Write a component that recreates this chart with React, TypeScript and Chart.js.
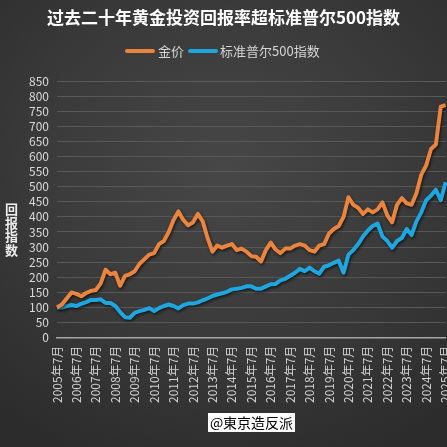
import { useEffect, useRef } from "react";
import { Chart, registerables } from "chart.js";

Chart.register(...registerables);

const TITLE = "过去二十年黄金投资回报率超标准普尔500指数";
const SERIES_NAMES = ["金价", "标准普尔500指数"];
const Y_TITLE = "回报指数";
const WATERMARK = "@東京造反派";

// quarterly categories, 2005年7月 .. 2025年7月
const QUARTER_MONTHS = [1, 4, 7, 10];
const categories: string[] = [];
for (let y = 2005; y <= 2025; y++) {
  for (const m of QUARTER_MONTHS) {
    if ((y === 2005 && m < 7) || (y === 2025 && m > 7)) continue;
    categories.push(`${y}年${m}月`);
  }
}

const goldValues = [
  100, 110, 130, 150, 145, 137, 148, 155, 158, 180,
  225, 210, 215, 172, 205, 210, 220, 245, 260, 275,
  280, 310, 320, 350, 390, 418, 390, 372, 382, 410,
  385, 330, 285, 305, 298, 305, 310, 290, 295, 285,
  270, 268, 252, 290, 315, 292, 280, 295, 295, 305,
  310, 305, 290, 285, 305, 310, 345, 360, 370, 400,
  465, 440, 430, 410, 425, 415, 425, 448, 405, 382,
  440, 462, 445, 440, 478, 540, 570, 625, 640, 765,
  770,
];

const spxValues = [
  100, 100, 105, 108, 105, 112, 118, 125, 125, 127,
  115, 115, 105, 85, 68, 66, 82, 88, 92, 98,
  88, 98, 105, 110, 105, 97, 108, 113, 113, 117,
  124, 130, 138, 143, 147, 152, 160, 162, 165, 170,
  170, 162, 162, 170, 177, 178, 190, 195, 205, 215,
  228, 220, 232, 220, 212, 235, 240, 248, 255, 215,
  275, 290, 310, 335, 355, 370, 378, 335, 320, 298,
  320, 330, 360, 340, 385, 415, 455, 470, 490, 455,
  515,
];

const Y_MIN = 0;
const Y_MAX = 850;
const Y_STEP = 50;

const GOLD_COLOR = "#ea843e";
const SPX_COLOR = "#1fa6de";
const CJK = "'Noto Sans CJK SC', 'Noto Sans', sans-serif";
const CANVAS_W = 468;

const shadowPlugin = {
  id: "lineShadow",
  beforeDatasetDraw(chart: any) {
    const ctx = chart.ctx;
    ctx.save();
    ctx.shadowColor = "rgba(0,0,0,0.65)";
    ctx.shadowBlur = 3;
    ctx.shadowOffsetX = 1;
    ctx.shadowOffsetY = 1.5;
  },
  afterDatasetDraw(chart: any) {
    chart.ctx.restore();
  },
};

const yTitlePlugin = {
  id: "yTitleStacked",
  afterDraw(chart: any) {
    const ctx = chart.ctx;
    ctx.save();
    ctx.fillStyle = "#eeeeee";
    ctx.font = `bold 13px ${CJK}`;
    ctx.textAlign = "center";
    ctx.textBaseline = "middle";
    Array.from(Y_TITLE).forEach((c, i) => {
      ctx.fillText(c, 11.5, 209 + i * 13.6);
    });
    ctx.restore();
  },
};

export default function App() {
  const ref = useRef<HTMLCanvasElement | null>(null);

  useEffect(() => {
    document.documentElement.style.overflow = "hidden";
    document.body.style.overflow = "hidden";
    const canvas = ref.current;
    if (!canvas) return;
    const chart = new Chart(canvas, {
      type: "line",
      data: {
        labels: categories,
        datasets: [
          {
            label: SERIES_NAMES[0],
            data: goldValues,
            borderColor: GOLD_COLOR,
            backgroundColor: GOLD_COLOR,
            borderWidth: 4,
            pointRadius: 0,
            tension: 0,
            borderJoinStyle: "round",
          },
          {
            label: SERIES_NAMES[1],
            data: spxValues,
            borderColor: SPX_COLOR,
            backgroundColor: SPX_COLOR,
            borderWidth: 4,
            pointRadius: 0,
            tension: 0,
            borderJoinStyle: "round",
          },
        ],
      },
      options: {
        animation: false,
        responsive: false,
        maintainAspectRatio: false,
        layout: { padding: { left: 8, right: 0, top: 81, bottom: 36 } },
        plugins: {
          title: { display: false },
          legend: { display: false },
          tooltip: { enabled: false },
        },
        scales: {
          x: {
            type: "category",
            grid: { display: false, drawTicks: false },
            border: { display: true, color: "#a6a6a6", width: 1.5 },
            ticks: {
              autoSkip: false,
              maxRotation: 90,
              minRotation: 90,
              padding: 8,
              color: "#d2d2d2",
              font: { family: CJK, size: 12 },
              callback: (_v: any, i: number) => (i % 4 === 0 ? categories[i] : ""),
            },
          },
          y: {
            min: Y_MIN,
            max: Y_MAX,
            afterFit: (s: any) => {
              s.width = 49;
            },
            grid: {
              drawTicks: false,
              color: (c: any) => (c.tick && c.tick.value === 0 ? "rgba(0,0,0,0)" : "#585858"),
              lineWidth: 1,
            },
            border: { display: false },
            ticks: {
              stepSize: Y_STEP,
              autoSkip: false,
              padding: 8,
              color: "#d9d9d9",
              font: { family: CJK, size: 12 },
            },
          },
        },
      },
      plugins: [shadowPlugin, yTitlePlugin],
    });
    return () => chart.destroy();
  }, []);

  const legendText = {
    position: "absolute" as const,
    top: 42,
    height: 18,
    lineHeight: "18px",
    color: "#d4d4d4",
    fontFamily: CJK,
    fontSize: 13,
    whiteSpace: "nowrap" as const,
  };

  return (
    <div
      style={{
        position: "fixed",
        left: 0,
        top: 0,
        width: CANVAS_W,
        height: 447,
        background:
          "radial-gradient(ellipse 75% 70% at 48% 38%, #474747 0%, #3b3b3b 50%, #2c2c2c 100%)",
      }}
    >
      <canvas
        ref={ref}
        width={CANVAS_W}
        height={447}
        style={{ width: CANVAS_W, height: 447, display: "block" }}
      />
      <div
        style={{
          position: "absolute",
          left: 0,
          top: 6,
          width: 447,
          textAlign: "center",
          color: "#ffffff",
          fontFamily: CJK,
          fontWeight: 700,
          fontSize: 17,
          lineHeight: "22px",
          whiteSpace: "nowrap",
        }}
      >
        {TITLE}
      </div>
      <div style={{ position: "absolute", left: 125, top: 49, width: 30, height: 4, background: GOLD_COLOR, borderRadius: 2 }} />
      <div style={{ ...legendText, left: 158 }}>{SERIES_NAMES[0]}</div>
      <div style={{ position: "absolute", left: 188, top: 49, width: 30, height: 4, background: SPX_COLOR, borderRadius: 2 }} />
      <div style={{ ...legendText, left: 220 }}>{SERIES_NAMES[1]}</div>
      <div
        style={{
          position: "absolute",
          left: 208,
          top: 413,
          width: 87,
          height: 19,
          background: "#ffffff",
          color: "#000000",
          fontFamily: "'Noto Sans CJK JP', sans-serif",
          fontSize: 14,
          lineHeight: "19px",
          textAlign: "center",
          whiteSpace: "nowrap",
        }}
      >
        {WATERMARK}
      </div>
    </div>
  );
}
